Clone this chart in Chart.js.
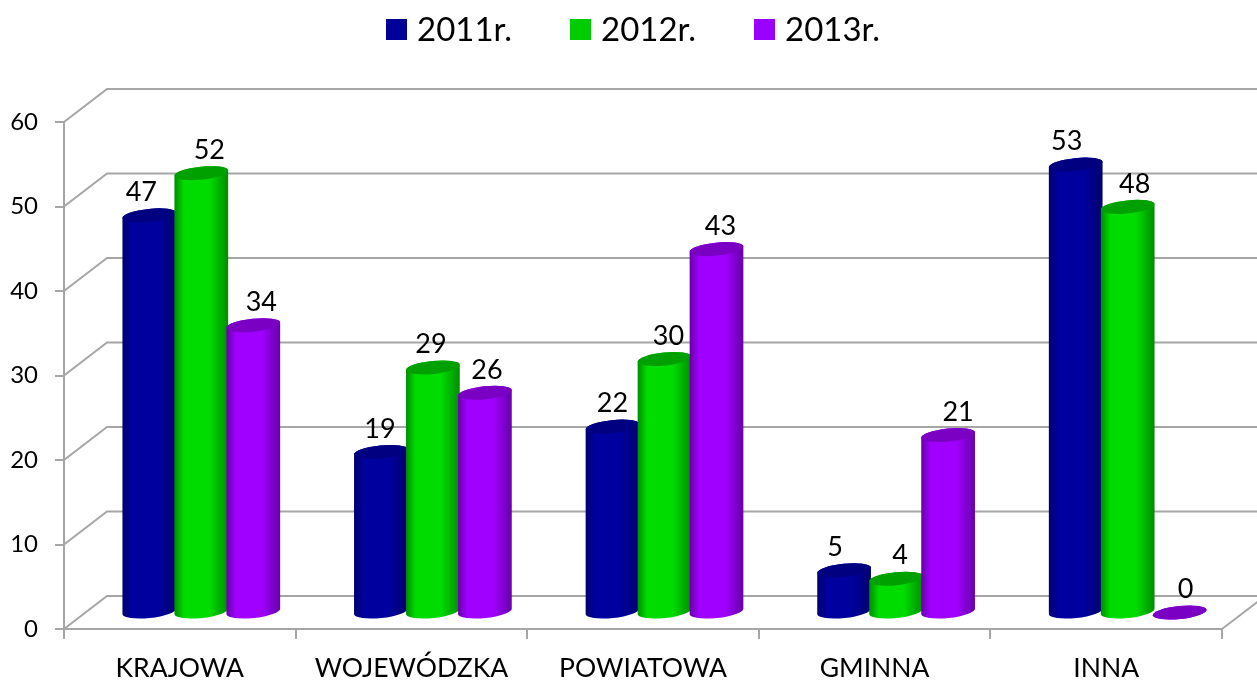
<!DOCTYPE html>
<html>
<head>
<meta charset="utf-8">
<title>Wykres</title>
<style>
  html, body { margin: 0; padding: 0; background: #fff; overflow: hidden; }
  canvas { display: block; }
</style>
<script src="https://cdn.jsdelivr.net/npm/chart.js@4/dist/chart.umd.min.js"></script>
</head>
<body>
<canvas id="wykres" width="1257" height="682"></canvas>
<script>
// Dane
const kategorie = ['KRAJOWA', 'WOJEWÓDZKA', 'POWIATOWA', 'GMINNA', 'INNA'];
const serie = ['2011r.', '2012r.', '2013r.'];
const wartosci2011 = [47, 19, 22, 5, 53];
const wartosci2012 = [52, 29, 30, 4, 48];
const wartosci2013 = [34, 26, 43, 21, 0];

// Kolory: legenda, krawedz walca, srodek walca, wieczko
const koloryLegendy = ['#000099', '#00cc00', '#9900ff'];
const koloryKrawedzi = ['#00006e', '#008c00', '#6600a8'];
const koloryJasne = ['#00009e', '#00dc00', '#a000ff'];
const koloryWieczka = ['#000080', '#00a000', '#7a00c4'];

// Przesuniecia etykiet wzgledem srodka slupka (x)
const przesuniecieEtykiet = [
  [-8, -1, 0, -9, -9],
  [8, -2, 4, 4, 7],
  [8, 2, 4, 10, 6]
];

const SZARY = '#a6a6a6';
const GLEBIA_X = 43, GLEBIA_Y = 33;   // sciana tylna
const SLUPEK_X = 21.5, SLUPEK_Y = 16.5; // plaszczyzna slupkow
const ELIPSA_Y = 6.5, OBROT = -6 * Math.PI / 180;
const CZCIONKA = 'Lato, sans-serif';

// Rysuje sciany 3D, walce, etykiety i legende
const wykres3d = {
  id: 'wykres3d',
  beforeDatasetDraw() {
    return false; // slupki rysujemy sami, w kolejnosci serii
  },
  beforeDatasetsDraw(chart) {
    const { ctx, chartArea: a, scales: { y } } = chart;
    ctx.save();
    ctx.strokeStyle = SZARY;
    ctx.lineWidth = 2;
    y.ticks.forEach(t => {
      const py = y.getPixelForValue(t.value);
      ctx.beginPath();
      ctx.moveTo(a.left, py);
      ctx.lineTo(a.left + GLEBIA_X, py - GLEBIA_Y);
      ctx.lineTo(chart.width, py - GLEBIA_Y);
      ctx.stroke();
    });
    // prawa krawedz podlogi
    ctx.beginPath();
    ctx.moveTo(a.right, a.bottom);
    ctx.lineTo(a.right + GLEBIA_X, a.bottom - GLEBIA_Y);
    ctx.stroke();
    ctx.restore();
  },
  afterDatasetsDraw(chart) {
    const { ctx } = chart;
    ctx.save();
    ctx.translate(SLUPEK_X, -SLUPEK_Y);
    chart.data.datasets.forEach((ds, i) => {
      chart.getDatasetMeta(i).data.forEach(el => {
        const rx = el.width / 2 + 1;
        const g = ctx.createLinearGradient(el.x - rx, 0, el.x + rx, 0);
        g.addColorStop(0, koloryKrawedzi[i]);
        g.addColorStop(0.18, koloryJasne[i]);
        g.addColorStop(0.65, koloryJasne[i]);
        g.addColorStop(1, koloryKrawedzi[i]);
        ctx.fillStyle = g;
        ctx.beginPath();
        ctx.ellipse(el.x, el.base, rx, ELIPSA_Y, OBROT, 0, Math.PI);
        ctx.ellipse(el.x, el.y, rx, ELIPSA_Y, OBROT, Math.PI, 2 * Math.PI);
        ctx.closePath();
        ctx.fill();
        ctx.fillStyle = koloryWieczka[i];
        ctx.beginPath();
        ctx.ellipse(el.x, el.y, rx, ELIPSA_Y, OBROT, 0, 2 * Math.PI);
        ctx.fill();
      });
    });
    // Etykiety wartosci
    ctx.fillStyle = '#000';
    ctx.font = '27px ' + CZCIONKA;
    ctx.textAlign = 'center';
    ctx.textBaseline = 'middle';
    chart.data.datasets.forEach((ds, i) => {
      chart.getDatasetMeta(i).data.forEach((el, j) => {
        ctx.fillText(ds.data[j], el.x + przesuniecieEtykiet[i][j], el.y - 23);
      });
    });
    ctx.restore();

    // Legenda
    const xLegendy = [386, 570, 754];
    ctx.save();
    ctx.font = '33px ' + CZCIONKA;
    ctx.textBaseline = 'middle';
    chart.data.datasets.forEach((ds, i) => {
      ctx.fillStyle = koloryLegendy[i];
      ctx.fillRect(xLegendy[i], 19, 21, 21);
      ctx.fillStyle = '#000';
      ctx.fillText(ds.label, xLegendy[i] + 31, 30);
    });
    ctx.restore();
  }
};

const zestawy = [wartosci2011, wartosci2012, wartosci2013].map((dane, i) => ({
  label: serie[i],
  data: dane,
  backgroundColor: koloryLegendy[i]
}));

new Chart(document.getElementById('wykres').getContext('2d'), {
  type: 'bar',
  data: { labels: kategorie, datasets: zestawy },
  plugins: [wykres3d],
  options: {
    responsive: false,
    animation: false,
    barPercentage: 1,
    categoryPercentage: 0.6736,
    layout: { padding: { top: 122, right: 35, bottom: 0, left: 0 } },
    plugins: {
      legend: { display: false },
      tooltip: { enabled: false }
    },
    scales: {
      x: {
        afterFit: s => { s.height = 53; },
        border: { color: SZARY, width: 2 },
        grid: { drawOnChartArea: false, color: SZARY, lineWidth: 2, tickLength: 10 },
        ticks: { color: '#000', font: { family: CZCIONKA, size: 26.5 }, padding: 14, maxRotation: 0 }
      },
      y: {
        min: 0,
        max: 60,
        afterFit: s => { s.width = 64; },
        border: { color: SZARY, width: 2 },
        grid: { drawOnChartArea: false, color: SZARY, lineWidth: 2, tickLength: 9 },
        ticks: { stepSize: 10, color: '#000', font: { family: CZCIONKA, size: 24 }, padding: 17 }
      }
    }
  }
});
</script>
</body>
</html>
